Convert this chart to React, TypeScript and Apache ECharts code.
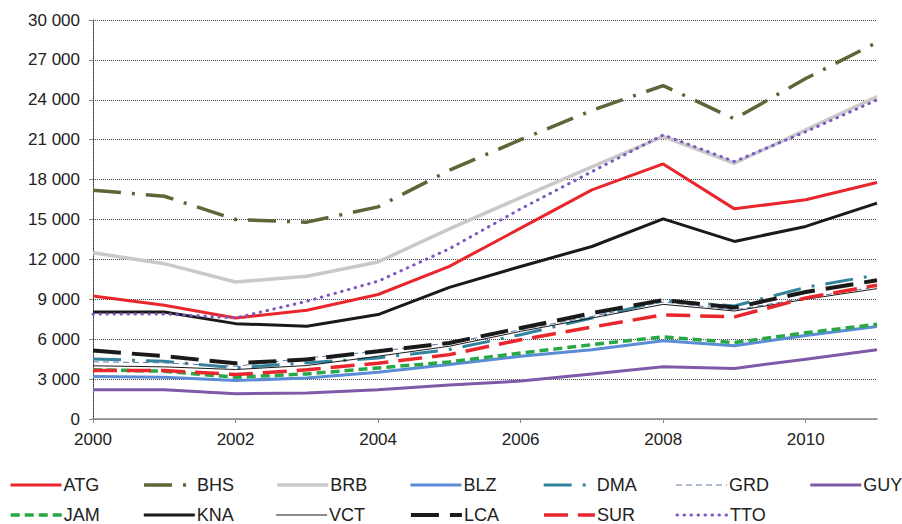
import React, { useEffect, useRef } from "react";
import * as echarts from "echarts";

const years = ["2000","2001","2002","2003","2004","2005","2006","2007","2008","2009","2010","2011"];
const yTicks = [0, 3000, 6000, 9000, 12000, 15000, 18000, 21000, 24000, 27000, 30000];

const ATG = [9250, 8550, 7600, 8180, 9360, 11480, 14350, 17230, 19180, 15800, 16480, 17780];
const BHS = [17200, 16750, 15000, 14800, 15950, 18700, 21000, 23200, 25070, 22560, 25600, 28320];
const BRB = [12500, 11680, 10300, 10730, 11810, 14290, 16650, 18960, 21240, 19230, 21740, 24240];
const BLZ = [3200, 3140, 2890, 3090, 3520, 4090, 4710, 5210, 5880, 5500, 6280, 6950];
const DMA = [4520, 4340, 3840, 4220, 4590, 5220, 6340, 7590, 8900, 8500, 9900, 10830];
const GRD = [4300, 4220, 3960, 4590, 5090, 5720, 6710, 7710, 8800, 8200, 9100, 9950];
const GUY = [2200, 2200, 1890, 1960, 2200, 2550, 2850, 3380, 3920, 3800, 4500, 5200];
const JAM = [3700, 3590, 3140, 3390, 3840, 4290, 4960, 5590, 6170, 5750, 6480, 7120];
const KNA = [8050, 8050, 7170, 6970, 7850, 9900, 11470, 12970, 15050, 13350, 14480, 16230];
const VCT = [4000, 3920, 3720, 4020, 4720, 5470, 6590, 7590, 8620, 8120, 9000, 9800];
const LCA = [5150, 4720, 4190, 4470, 5090, 5720, 6840, 7960, 8950, 8375, 9550, 10430];
const SUR = [3650, 3650, 3340, 3700, 4200, 4840, 5960, 6910, 7830, 7680, 9100, 10060];
const TTO = [7900, 7900, 7600, 8850, 10360, 12800, 15800, 18600, 21360, 19360, 21600, 23990];

const seriesDefs = [
  { name: "ATG", data: ATG, color: "#E8262C", width: 3, type: "solid" as any },
  { name: "BHS", data: BHS, color: "#5E6638", width: 3.5, type: [28, 11, 3, 11] },
  { name: "BRB", data: BRB, color: "#C9C9C9", width: 3.5, type: "solid" },
  { name: "BLZ", data: BLZ, color: "#5B8CD6", width: 3, type: "solid" },
  { name: "DMA", data: DMA, color: "#31849B", width: 3, type: [28, 11, 3, 11] },
  { name: "GRD", data: GRD, color: "#5F74A6", width: 1, type: [6, 4] },
  { name: "GUY", data: GUY, color: "#7F5AA8", width: 3, type: "solid" },
  { name: "JAM", data: JAM, color: "#27A844", width: 3.5, type: [9, 5] },
  { name: "KNA", data: KNA, color: "#1A1A1A", width: 3, type: "solid" },
  { name: "VCT", data: VCT, color: "#1A1A1A", width: 1, type: "solid" },
  { name: "LCA", data: LCA, color: "#1A1A1A", width: 4, type: [28, 11] },
  { name: "SUR", data: SUR, color: "#E8262C", width: 3.5, type: [24, 10] },
  { name: "TTO", data: TTO, color: "#7E57C2", width: 3, type: [0.5, 6.5], cap: "round" },
];

const fmt = (v: number) => {
  const s = String(v);
  return s.length > 3 ? s.slice(0, s.length - 3) + " " + s.slice(s.length - 3) : s;
};

export default function App() {
  const ref = useRef<HTMLDivElement>(null);
  useEffect(() => {
    if (!ref.current) return;
    const chart = echarts.init(ref.current, undefined, { renderer: "svg" });
    const font = "'Liberation Sans', Arial, sans-serif";
    const legends = seriesDefs.map((s, i) => {
      const row = i < 7 ? 0 : 1;
      const col = i < 7 ? i : i - 7;
      return {
        data: [s.name],
        left: 9 + col * 133.3,
        top: row === 0 ? 476 : 506,
        orient: "horizontal",
        padding: 0,
        itemWidth: 51,
        itemHeight: 14,
        itemGap: 0,
        selectedMode: false,
        itemStyle: { opacity: 0 },
        lineStyle: { width: "inherit" },
        textStyle: { fontSize: 18, color: "#222", fontFamily: font, padding: [0, 0, 0, -3] },
      };
    });
    chart.setOption({
      animation: false,
      backgroundColor: "#fff",
      grid: { left: 93, right: 25, top: 20, bottom: 105, containLabel: false },
      legend: legends,
      xAxis: {
        type: "category",
        data: years,
        boundaryGap: false,
        axisLine: { show: true, lineStyle: { color: "#888", width: 1.5 } },
        axisTick: { show: true, interval: 1, length: 4, lineStyle: { color: "#888" } },
        axisLabel: { interval: 1, fontSize: 17, color: "#222", fontFamily: font, margin: 12 },
        splitLine: { show: false },
      },
      yAxis: {
        type: "value",
        min: 0,
        max: 30000,
        interval: 3000,
        axisLine: { show: true, lineStyle: { color: "#333", type: [1, 1], width: 1 } },
        axisTick: { show: true, length: 4, lineStyle: { color: "#888" } },
        axisLabel: {
          fontSize: 17, color: "#222", fontFamily: font, margin: 13,
          formatter: (v: number) => (yTicks.includes(v) ? fmt(v) : ""),
        },
        splitLine: { show: true, lineStyle: { color: "#444", type: [1, 1], width: 1 } },
      },
      series: seriesDefs.map((s) => ({
        name: s.name,
        type: "line",
        data: s.data,
        symbol: "none",
        showSymbol: false,
        color: s.color,
        lineStyle: { color: s.color, width: s.width, type: s.type, cap: (s as any).cap || "butt" },
        emphasis: { disabled: true },
      })),
    });
    return () => chart.dispose();
  }, []);
  return <div ref={ref} style={{ width: 902, height: 524, position: "absolute", left: 0, top: 0 }} />;
}
